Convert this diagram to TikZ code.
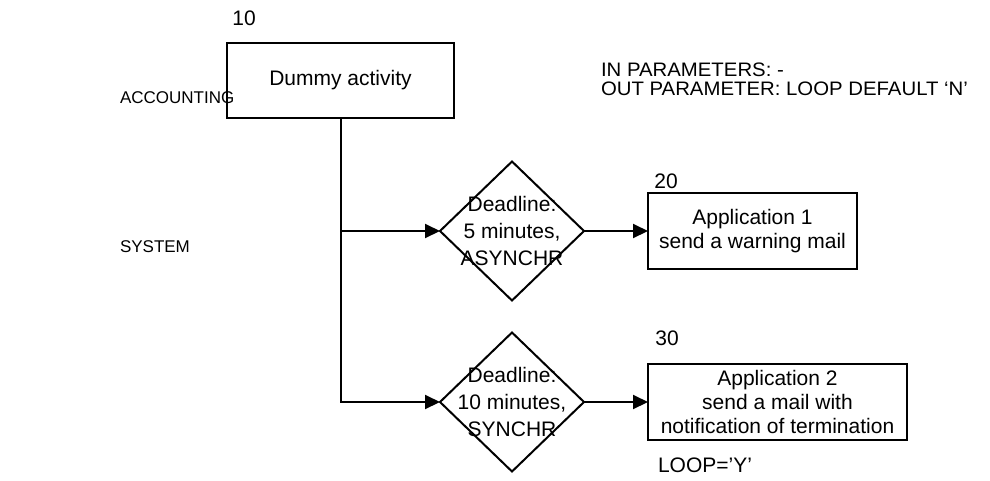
\documentclass[tikz,border=0pt]{standalone}
\usepackage{fontspec}
\setmainfont{Liberation Sans}
\usetikzlibrary{shapes.geometric,arrows.meta}
\begin{document}
\begin{tikzpicture}[x=1pt,y=-1pt,
  every node/.style={inner sep=0pt,outer sep=0pt},
  actbox/.style={draw,line width=2pt,rectangle,align=center,
    font=\fontsize{21}{24}\selectfont},
  decis/.style={draw,line width=2pt,diamond,minimum width=144pt,minimum height=139pt},
  dtext/.style={align=center,font=\fontsize{21}{27}\selectfont},
  lbl/.style={font=\fontsize{21}{24}\selectfont},
  lane/.style={font=\fontsize{17}{20}\selectfont},
  param/.style={anchor=base west,font=\fontsize{19.5}{19.5}\selectfont},
  conn/.style={line width=2pt},
  arr/.style={conn,-{Triangle[length=15pt,width=14pt]}}]
\useasboundingbox (0,0) rectangle (990,480);

% lanes
\node[lane,anchor=base west] (acc) at (120,103) {ACCOUNTING};
\node[lane,anchor=base west] (sys) at (120,252) {SYSTEM};

% parameters
\node[param] (inpar) at (601,76) {\scalebox{1.044}[1]{IN PARAMETERS: -}};
\node[param] (outpar) at (601,95) {\scalebox{1.044}[1]{OUT PARAMETER: LOOP DEFAULT ‘N’}};

% activities
\node[actbox,minimum width=227pt,minimum height=75pt] (dummy) at (340.5,80.5) {Dummy activity};
\node[lbl,anchor=base] (n10) at (244,25) {10};

\node[decis] (d1) at (512,231) {};
\node[dtext] (t1) at (d1.center) {Deadline:\\5 minutes,\\ASYNCHR};
\node[decis] (d2) at (512,402) {};
\node[dtext] (t2) at (d2.center) {Deadline:\\10 minutes,\\SYNCHR};

\node[actbox,minimum width=209pt,minimum height=76pt] (a1) at (752.5,231)
  {Application 1\\send a warning mail};
\node[lbl,anchor=base] (n20) at (666,188) {20};

\node[actbox,minimum width=259pt,minimum height=76pt] (a2) at (777.5,402)
  {Application 2\\send a mail with\\notification of termination};
\node[lbl,anchor=base] (n30) at (667,345) {30};
\node[lbl,anchor=base west] (loop) at (658,472) {LOOP=’Y’};

% connectors
\coordinate (j1) at (dummy.south |- d1.west);
\draw[arr] (dummy.south) |- (d2.west);
\draw[arr] (j1) -- (d1.west);
\draw[arr] (d1.east) -- (a1.west);
\draw[arr] (d2.east) -- (a2.west);
\end{tikzpicture}
\end{document}
